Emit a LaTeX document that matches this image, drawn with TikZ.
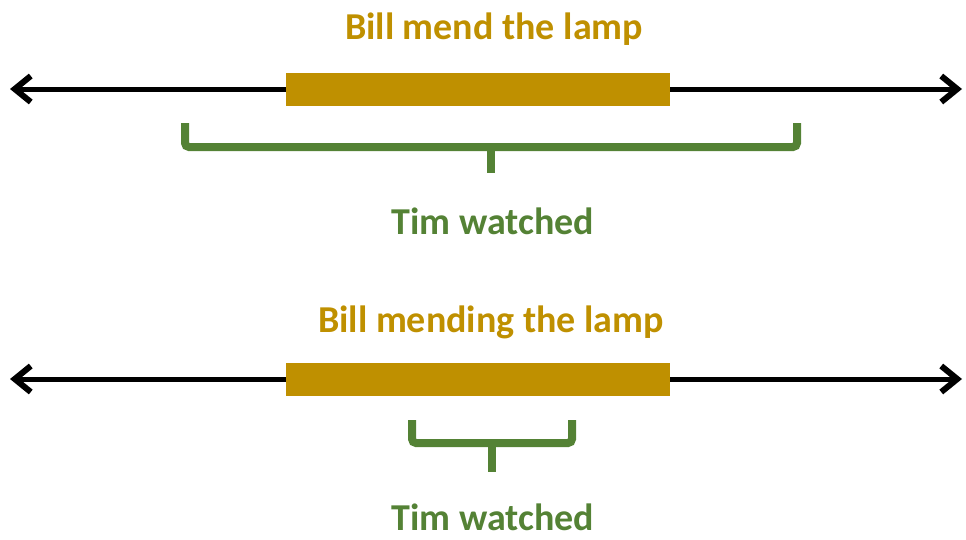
\documentclass[tikz,border=0pt]{standalone}
\usepackage{fontspec}
\setmainfont{Carlito}
\usetikzlibrary{arrows.meta}
\definecolor{gold}{RGB}{191,144,0}
\definecolor{leaf}{RGB}{84,130,53}
\begin{document}
\begin{tikzpicture}[x=1pt,y=-1pt,
  timeline/.style={line width=5pt,black,{Straight Barb[length=16pt,width=26pt,line width=6pt]}-{Straight Barb[length=16pt,width=26pt,line width=6pt]}},
  bar/.style={fill=gold,draw=none},
  bracket/.style={line width=8pt,leaf,rounded corners=4pt},
  stem/.style={line width=8pt,leaf},
  goldtext/.style={font=\fontsize{38}{40}\selectfont\bfseries,text=gold,inner sep=0pt,anchor=base},
  leaftext/.style={font=\fontsize{38}{40}\selectfont\bfseries,text=leaf,inner sep=0pt,anchor=base}]
\useasboundingbox (0,0) rectangle (966,539);
% top
\coordinate (tl) at (10,89);
\coordinate (tr) at (962,89);
\draw[timeline] (tl) -- (tr);
\fill[bar] (286,73) rectangle (670,106);
\node[goldtext] (t1) at (494,39) {Bill mend the lamp};
\draw[bracket] (185,123) -- (185,147) -- (797,147) -- (797,123);
\coordinate (s1a) at (491,147);
\coordinate (s1b) at (491,173);
\draw[stem] (s1a) -- (s1b);
\node[leaftext] (w1) at (493,234) {Tim watched};
% bottom
\coordinate (bl) at (10,379);
\coordinate (br) at (962,379);
\draw[timeline] (bl) -- (br);
\fill[bar] (286,363) rectangle (670,396);
\node[goldtext] (t2) at (491,332) {Bill mending the lamp};
\draw[bracket] (412,420) -- (412,443) -- (572,443) -- (572,420);
\coordinate (s2a) at (492,443);
\coordinate (s2b) at (492,472);
\draw[stem] (s2a) -- (s2b);
\node[leaftext] (w2) at (493,530) {Tim watched};
\end{tikzpicture}
\end{document}
